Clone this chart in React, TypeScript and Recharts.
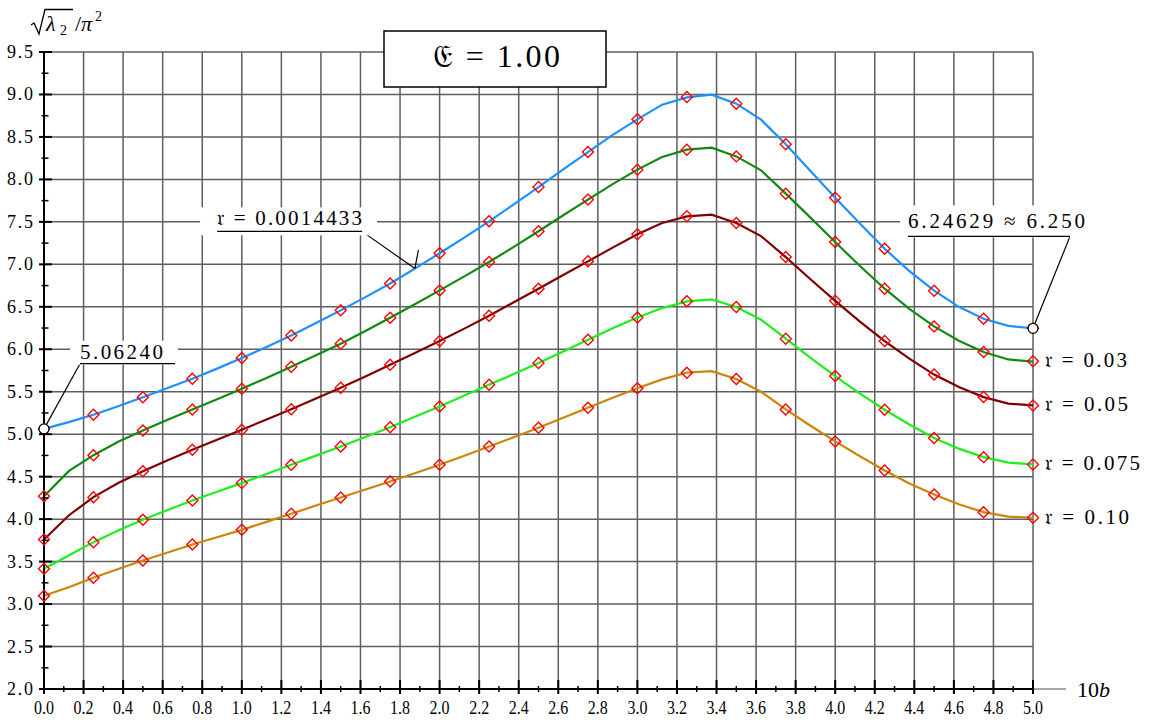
import {
  ComposedChart,
  Line,
  XAxis,
  YAxis,
  CartesianGrid,
  ReferenceLine,
  ReferenceDot,
} from 'recharts'

// x positions of the computed curve and of the red check points
const curveX = [
  0, 0.125, 0.25, 0.375, 0.5, 0.625, 0.75, 0.875, 1, 1.125, 1.25, 1.375, 1.5, 1.625, 1.75, 1.875, 2,
  2.125, 2.25, 2.375, 2.5, 2.625, 2.75, 2.875, 3, 3.125, 3.25, 3.375, 3.5, 3.625, 3.75, 3.875, 4,
  4.125, 4.25, 4.375, 4.5, 4.625, 4.75, 4.875, 5,
]
const markerX = [0, 0.25, 0.5, 0.75, 1, 1.25, 1.5, 1.75, 2, 2.25, 2.5, 2.75, 3, 3.25, 3.5, 3.75, 4, 4.25, 4.5, 4.75, 5]

// r = 0.0014433
const blueCurve = [
  5.062, 5.142, 5.229, 5.33, 5.436, 5.543, 5.653, 5.772, 5.896, 6.027, 6.163, 6.308, 6.458, 6.614, 6.775,
  6.95, 7.13, 7.315, 7.506, 7.706, 7.91, 8.118, 8.322, 8.525, 8.707, 8.88, 8.965, 8.998, 8.892, 8.704,
  8.413, 8.1, 7.785, 7.48, 7.184, 6.92, 6.69, 6.5, 6.36, 6.275, 6.246,
]
const blueMarks = [
  5.062, 5.229, 5.436, 5.653, 5.896, 6.163, 6.458, 6.775, 7.13, 7.506, 7.91, 8.322, 8.707, 8.97, 8.892,
  8.413, 7.785, 7.184, 6.69, 6.36, 6.246,
]
// r = 0.03
const greenCurve = [
  4.27, 4.565, 4.753, 4.91, 5.044, 5.17, 5.292, 5.412, 5.535, 5.663, 5.795, 5.93, 6.065, 6.215, 6.372,
  6.53, 6.693, 6.858, 7.027, 7.205, 7.39, 7.578, 7.762, 7.945, 8.115, 8.263, 8.35, 8.374, 8.271, 8.107,
  7.832, 7.55, 7.262, 6.98, 6.713, 6.475, 6.269, 6.1, 5.967, 5.88, 5.855,
]
const greenMarks = [
  4.27, 4.753, 5.044, 5.292, 5.535, 5.795, 6.065, 6.372, 6.693, 7.027, 7.39, 7.762, 8.115, 8.35, 8.271,
  7.832, 7.262, 6.713, 6.269, 5.967, 5.86,
]
// r = 0.05
const maroonCurve = [
  3.76, 4.043, 4.259, 4.425, 4.565, 4.693, 4.817, 4.935, 5.053, 5.173, 5.295, 5.42, 5.547, 5.68, 5.818,
  5.955, 6.096, 6.243, 6.395, 6.553, 6.713, 6.875, 7.035, 7.197, 7.353, 7.486, 7.565, 7.585, 7.486, 7.333,
  7.085, 6.825, 6.57, 6.325, 6.096, 5.89, 5.702, 5.555, 5.437, 5.36, 5.339,
]
const maroonMarks = [
  3.76, 4.259, 4.565, 4.817, 5.053, 5.295, 5.547, 5.818, 6.096, 6.395, 6.713, 7.035, 7.353, 7.565, 7.486,
  7.085, 6.57, 6.096, 5.702, 5.437, 5.339,
]
// r = 0.075
const limeCurve = [
  3.415, 3.572, 3.729, 3.865, 3.992, 4.108, 4.22, 4.322, 4.424, 4.532, 4.64, 4.748, 4.856, 4.968, 5.083,
  5.205, 5.327, 5.455, 5.582, 5.708, 5.837, 5.975, 6.112, 6.248, 6.375, 6.485, 6.564, 6.587, 6.497, 6.348,
  6.124, 5.9, 5.684, 5.478, 5.288, 5.115, 4.956, 4.83, 4.73, 4.665, 4.644,
]
const limeMarks = [
  3.415, 3.729, 3.992, 4.22, 4.424, 4.64, 4.856, 5.083, 5.327, 5.582, 5.837, 6.112, 6.375, 6.564, 6.497,
  6.124, 5.684, 5.288, 4.956, 4.73, 4.644,
]
// r = 0.10
const goldCurve = [
  3.097, 3.198, 3.309, 3.412, 3.513, 3.608, 3.701, 3.787, 3.874, 3.968, 4.063, 4.16, 4.255, 4.348, 4.443,
  4.54, 4.64, 4.746, 4.856, 4.965, 5.076, 5.194, 5.312, 5.43, 5.54, 5.645, 5.724, 5.743, 5.649, 5.5,
  5.292, 5.1, 4.915, 4.74, 4.573, 4.42, 4.29, 4.175, 4.082, 4.03, 4.016,
]
const goldMarks = [
  3.097, 3.309, 3.513, 3.701, 3.874, 4.063, 4.255, 4.443, 4.64, 4.856, 5.076, 5.312, 5.54, 5.724, 5.649,
  5.292, 4.915, 4.573, 4.29, 4.082, 4.016,
]

const xMajorTicks = [
  0, 0.2, 0.4, 0.6, 0.8, 1, 1.2, 1.4, 1.6, 1.8, 2, 2.2, 2.4, 2.6, 2.8, 3, 3.2, 3.4, 3.6, 3.8, 4, 4.2,
  4.4, 4.6, 4.8, 5,
]
const yMajorTicks = [2, 2.5, 3, 3.5, 4, 4.5, 5, 5.5, 6, 6.5, 7, 7.5, 8, 8.5, 9, 9.5]
const xMinorTicks = xMajorTicks.slice(1).map((v, i) => (v + xMajorTicks[i]) / 2)
const yMinorTicks = yMajorTicks.slice(1).map((v, i) => (v + yMajorTicks[i]) / 2)

const seriesLabels = ['', '𝔯 = 0.03', '𝔯 = 0.05', '𝔯 = 0.075', '𝔯 = 0.10']

const FONT = '"Liberation Serif", "Times New Roman", "DejaVu Serif", serif'

const series = [
  { id: 'r1', color: '#1E90FF', curve: blueCurve, marks: blueMarks, label: seriesLabels[0], labelW: 0 },
  { id: 'r2', color: '#108A10', curve: greenCurve, marks: greenMarks, label: seriesLabels[1], labelW: 82 },
  { id: 'r3', color: '#800000', curve: maroonCurve, marks: maroonMarks, label: seriesLabels[2], labelW: 83 },
  { id: 'r4', color: '#1EEE1E', curve: limeCurve, marks: limeMarks, label: seriesLabels[3], labelW: 95 },
  { id: 'r5', color: '#C8860A', curve: goldCurve, marks: goldMarks, label: seriesLabels[4], labelW: 84 },
]

// callouts: anchor point of the underline, target on the curve, and box offsets in px
const callouts = [
  {
    text: '5.06240', at: { x: 0.182, y: 5.83 }, to: { x: 0, y: 5.0624 }, ring: true,
    textX: 0, textW: 83, baseline: -5, line: [0, 95], box: [-10, -23, 108, 24],
  },
  {
    text: '𝔯 = 0.0014433', at: { x: 1.608, y: 7.388 }, to: { x: 1.875, y: 6.95 }, ring: false,
    textX: -145, textW: 145, baseline: -6, line: [-145, 0], box: [-162, -24, 177, 28],
  },
  {
    text: '6.24629 ≈ 6.250', at: { x: 5.187, y: 7.329 }, to: { x: 5, y: 6.24629 }, ring: true,
    textX: -162, textW: 177, baseline: -8, line: [-162, 0], box: [-170, -31, 192, 32],
  },
]

function XTick(props: any) {
  const { x, y, payload } = props
  const v = payload.value
  const major = xMajorTicks.includes(v)
  return (
    <g>
      <line x1={x} x2={x} y1={major ? y - 9 : y - 3} y2={major ? y + 5 : y + 3} stroke="#000" strokeWidth={major ? 2 : 1.5} />
      {major && (
        <text
          x={x - 10}
          y={y + 25}
          fontSize={18}
          fontFamily={FONT}
          fill="#000"
          textLength={20}
          lengthAdjust="spacingAndGlyphs"
        >
          {v.toFixed(1)}
        </text>
      )}
    </g>
  )
}

function YTick(props: any) {
  const { x, y, payload } = props
  const v = payload.value
  const major = yMajorTicks.includes(v)
  return (
    <g>
      <line x1={major ? x - 5 : x - 2.5} x2={major ? x + 8 : x + 4.5} y1={y} y2={y} stroke="#000" strokeWidth={major ? 2 : 1.5} />
      {major && (
        <text
          x={x - 37}
          y={y + 6}
          fontSize={18}
          fontFamily={FONT}
          fill="#000"
          textLength={26}
          lengthAdjust="spacing"
        >
          {v.toFixed(1)}
        </text>
      )}
    </g>
  )
}

function markerDot(label: string, labelW: number, last: number) {
  return (props: any) => {
    const { cx, cy, index } = props
    return (
      <g key={`m-${index}`}>
        <path
          d={`M${cx} ${cy - 5.5} L${cx + 5.5} ${cy} L${cx} ${cy + 5.5} L${cx - 5.5} ${cy} Z`}
          fill="none"
          stroke="#FF0000"
          strokeWidth={1.4}
        />
        {label && index === last && (
          <text
            x={cx + 12}
            y={cy + 6}
            fontSize={21}
            fontFamily={FONT}
            fill="#000"
            textLength={labelW}
            lengthAdjust="spacing"
          >
            {label}
          </text>
        )}
      </g>
    )
  }
}

function calloutShape(c: (typeof callouts)[number]) {
  return (props: any) => {
    const { cx, cy } = props
    return (
      <g>
        <rect x={cx + c.box[0]} y={cy + c.box[1]} width={c.box[2]} height={c.box[3]} fill="#fff" />
        <text
          x={cx + c.textX}
          y={cy + c.baseline}
          fontSize={21}
          fontFamily={FONT}
          fill="#000"
          textLength={c.textW}
          lengthAdjust="spacing"
        >
          {c.text}
        </text>
        <line x1={cx + c.line[0]} x2={cx + c.line[1]} y1={cy} y2={cy} stroke="#000" strokeWidth={1.2} />
      </g>
    )
  }
}

export default function App() {
  const allXTicks = [...xMajorTicks, ...xMinorTicks].sort((a, b) => a - b)
  const allYTicks = [...yMajorTicks, ...yMinorTicks].sort((a, b) => a - b)

  return (
    <div style={{ position: 'absolute', left: 0, top: 0, width: 1152, height: 722, background: '#fff' }}>
      <ComposedChart width={1152} height={722} margin={{ top: 52, right: 119, bottom: 0, left: 0 }}>
        <CartesianGrid
          horizontalValues={yMajorTicks}
          verticalValues={xMajorTicks}
          stroke="#5f5f5f"
          strokeWidth={1.5}
        />
        <XAxis
          type="number"
          dataKey="x"
          domain={[0, 5]}
          ticks={allXTicks}
          interval={0}
          tickSize={0}
          tickMargin={0}
          tickLine={false}
          axisLine={{ stroke: '#000', strokeWidth: 2 }}
          height={33}
          tick={(p: any) => <XTick key={`xt-${p.index}`} {...p} />}
        />
        <YAxis
          type="number"
          domain={[2, 9.5]}
          ticks={allYTicks}
          interval={0}
          tickSize={0}
          tickMargin={0}
          tickLine={false}
          axisLine={{ stroke: '#000', strokeWidth: 2 }}
          width={44}
          tick={(p: any) => <YTick key={`yt-${p.index}`} {...p} />}
        />

        {series.map((s) => (
          <Line
            key={s.id}
            data={curveX.map((x, i) => ({ x, y: s.curve[i] }))}
            dataKey="y"
            type="linear"
            stroke={s.color}
            strokeWidth={2.2}
            dot={false}
            activeDot={false}
            isAnimationActive={false}
          />
        ))}
        {series.map((s) => (
          <Line
            key={`${s.id}-marks`}
            data={markerX.map((x, i) => ({ x, y: s.marks[i] }))}
            dataKey="y"
            stroke="none"
            dot={markerDot(s.label, s.labelW, markerX.length - 1)}
            activeDot={false}
            isAnimationActive={false}
          />
        ))}

        {callouts.map((c, i) => (
          <ReferenceLine
            key={`lead-${i}`}
            segment={[c.at, c.to]}
            stroke="#000"
            strokeWidth={1.2}
            ifOverflow="visible"
          />
        ))}
        <ReferenceLine
          segment={[callouts[1].to, { x: 1.893, y: 7.17 }]}
          stroke="#000"
          strokeWidth={1.2}
          ifOverflow="visible"
        />
        {callouts
          .filter((c) => c.ring)
          .map((c, i) => (
            <ReferenceDot
              key={`ring-${i}`}
              x={c.to.x}
              y={c.to.y}
              r={5}
              fill="#fff"
              stroke="#000"
              strokeWidth={1.3}
              ifOverflow="visible"
            />
          ))}
        {callouts.map((c, i) => (
          <ReferenceDot key={`co-${i}`} x={c.at.x} y={c.at.y} r={1} ifOverflow="visible" shape={calloutShape(c)} />
        ))}
      </ComposedChart>

      <svg
        width={1152}
        height={722}
        style={{ position: 'absolute', left: 0, top: 0, pointerEvents: 'none' }}
        fontFamily={FONT}
      >
        {/* y axis title: sqrt(lambda_2) / pi^2 */}
        <path d="M31 25 L34 23 L39 34 L45 9.5 L73 9.5" fill="none" stroke="#000" strokeWidth={1.3} />
        <text x={46} y={31} fontSize={22} fontStyle="italic">λ</text>
        <text x={60} y={35} fontSize={14}>2</text>
        <text x={75} y={31} fontSize={22}>/</text>
        <text x={81} y={31} fontSize={22} fontStyle="italic">π</text>
        <text x={95} y={21} fontSize={14}>2</text>

        {/* title box */}
        <rect x={384} y={31} width={222} height={56} fill="#fff" stroke="#000" strokeWidth={1.5} />
        <text x={433} y={67} fontSize={32} textLength={127} lengthAdjust="spacing">
          𝔈 = 1.00
        </text>

        {/* x axis continuation and title */}
        <line x1={1034} x2={1066} y1={689} y2={689} stroke="#555" strokeWidth={1} />
        <text x={1077} y={697} fontSize={22}>
          10<tspan fontStyle="italic">b</tspan>
        </text>
      </svg>
    </div>
  )
}
